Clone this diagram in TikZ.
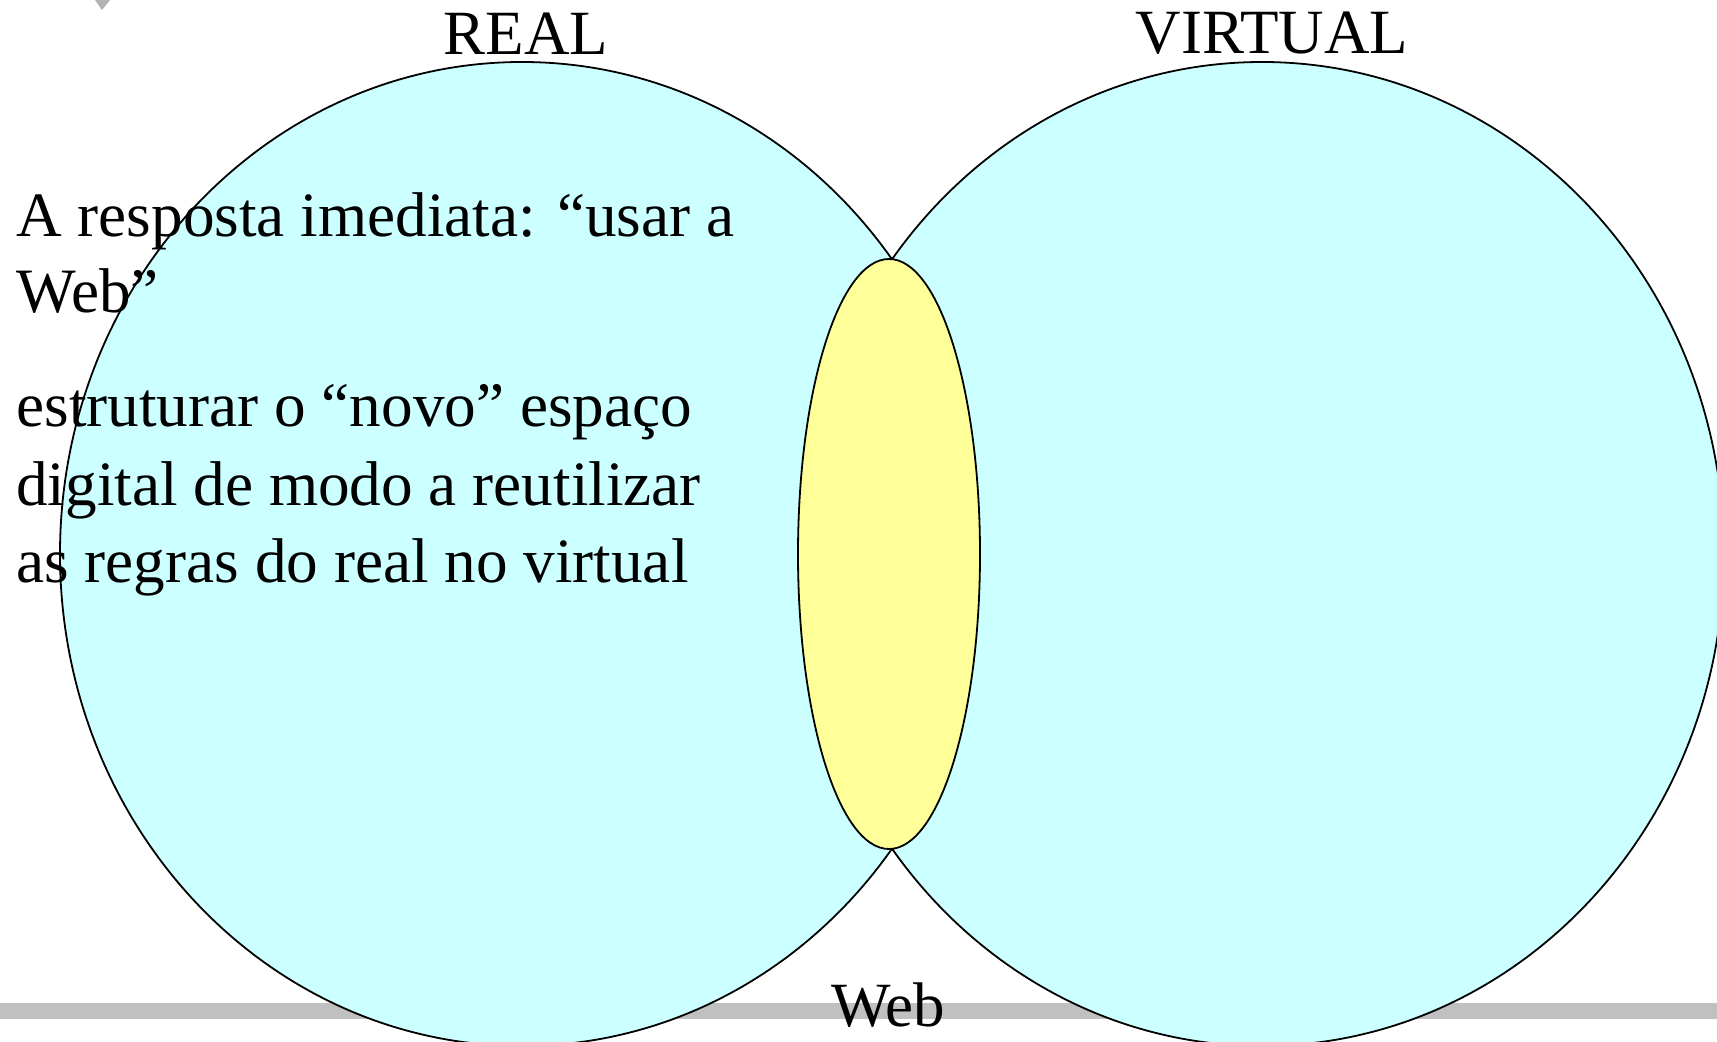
\documentclass[tikz,border=0pt]{standalone}
\usepackage{fontspec}
\setmainfont{Liberation Serif}
\usepackage{tikz}
\usetikzlibrary{shapes.geometric}

\definecolor{realcyan}{HTML}{CCFFFF}
\definecolor{webyellow}{HTML}{FFFF99}
\definecolor{bargray}{HTML}{C0C0C0}

\begin{document}
\begin{tikzpicture}[x=0.5pt, y=-0.5pt,
    world/.style={ellipse, draw, line width=0.9pt, fill=realcyan, inner sep=0pt, minimum width=462pt, minimum height=492pt},
    bigtext/.style={inner sep=0pt, font=\fontsize{31.5}{38}\selectfont},
    bodytext/.style={inner sep=0pt, anchor=base west, font=\fontsize{31.6}{38}\selectfont}]
    \useasboundingbox (0,0) rectangle (1717,1042);
    % Place shapes
    \fill [bargray] (0,1003) rectangle (1717,1019);
    \fill [gray!60] (95,0) -- (110,0) -- (102,10) -- cycle;
    \node [world] (real) at (522,554) {};
    \node [world] (virtual) at (1262,554) {};
    \node [ellipse, draw, line width=0.9pt, fill=webyellow, inner sep=0pt, minimum width=91pt, minimum height=295pt] (web) at (889,554) {};
    % Place texts
    \node [bigtext, anchor=base] (realtitle) at (526,55) {REAL};
    \node [bigtext, anchor=base] (virtualtitle) at (1272,54) {VIRTUAL};
    \node [bigtext, anchor=base] (webtitle) at (888,1026) {Web};
    \node [bodytext] (l1) at (16,237) {A resposta imediata: “usar a};
    \node [bodytext] (l2) at (16,313) {Web”};
    \node [bodytext] (l3) at (16,427) {estruturar o “novo” espaço};
    \node [bodytext] (l4) at (16,505) {digital de modo a reutilizar};
    \node [bodytext] (l5) at (16,582) {as regras do real no virtual};
\end{tikzpicture}
\end{document}
